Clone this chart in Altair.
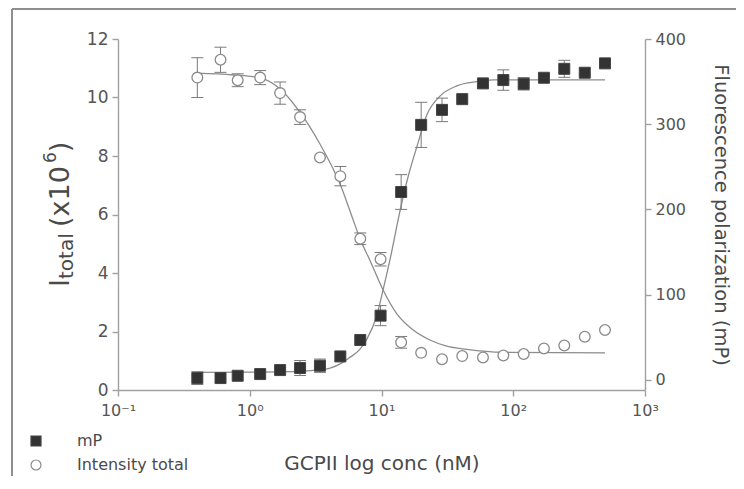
import altair as alt
import pandas as pd

# ---- data ----
conc = [0.40, 0.60, 0.81, 1.20, 1.70, 2.41, 3.41, 4.87, 6.9, 9.84, 14.1,
        20.0, 28.8, 41.0, 58.9, 84.1, 120, 171, 244, 349, 497]
intensity = [10.68, 11.29, 10.59, 10.68, 10.15, 9.33, 7.95, 7.31, 5.17, 4.47, 1.63,
             1.27, 1.05, 1.16, 1.11, 1.18, 1.23, 1.42, 1.52, 1.82, 2.05]
intensity_err = [0.68, 0.43, 0.22, 0.24, 0.38, 0.25, None, 0.33, 0.20, 0.23, 0.20,
                 None, None, None, None, None, None, None, None, None, None]
mp = [2.0, 2.0, 4.7, 6.7, 11.4, 13.8, 16.5, 27.4, 46.7, 75.3, 220.4,
      299.2, 316.8, 329.4, 347.9, 351.8, 347.4, 354.5, 365.0, 360.4, 371.4]
mp_err = [7.5, None, None, None, None, 8.8, 7.8, None, None, 11.8, 20.4,
          26.5, 13.8, None, None, 12.0, 7.3, None, 10.0, None, None]

int_fit_conc = [0.395, 0.75, 1.20, 1.70, 2.41, 3.41, 4.84, 6.11, 6.87, 8.18, 10.3,
                13.0, 17.4, 23.3, 31.3, 44.4, 83.6, 497]
int_fit_val = [10.83, 10.77, 10.67, 10.29, 9.49, 8.41, 7.05, 5.80, 5.17, 4.43, 3.41,
               2.62, 2.05, 1.71, 1.50, 1.39, 1.29, 1.27]
mp_fit_conc = [0.405, 1.0, 2.41, 3.46, 4.07, 4.97, 5.66, 6.82, 7.70, 9.18, 10.3,
               11.6, 13.9, 15.9, 18.6, 22.1, 27.8, 37.4, 53.1, 70.2, 497]
mp_fit_val = [8.6, 8.9, 9.8, 11.8, 13.7, 19.6, 25.5, 35.3, 47.0, 74.5, 106,
              141, 200, 238, 274, 311, 333, 345, 350, 352, 352]

x_ticks = [0.1, 1, 10, 100, 1000]
x_tick_labels = ["10⁻¹", "10⁰", "10¹", "10²", "10³"]
left_ticks = [0, 2, 4, 6, 8, 10, 12]
right_ticks = [0, 100, 200, 300, 400]
series_names = ["mP", "Intensity total"]

# left axis title pieces: (text, role)  role: main / sub / sup
left_title_parts = [("I", "main"), (" total", "sub"), (" (x10", "main"), ("6", "sup"), (")", "main")]

FONT = "DejaVu Sans"
LINE_COLOR = "#8c8c8c"
ERR_COLOR = "#7a7a7a"
TITLE_COLOR = "#4a4a4a"

# ---- tables ----
pts_int = pd.DataFrame({"conc": conc, "val": intensity, "err": intensity_err})
pts_int["series"] = "Intensity total"
pts_int["err"] = pd.to_numeric(pts_int["err"])
pts_int["lo"] = pts_int["val"] - pts_int["err"]
pts_int["hi"] = pts_int["val"] + pts_int["err"]
err_int = pts_int.dropna(subset=["err"])

pts_mp = pd.DataFrame({"conc": conc, "val": mp, "err": mp_err})
pts_mp["series"] = "mP"
pts_mp["err"] = pd.to_numeric(pts_mp["err"])
pts_mp["lo"] = pts_mp["val"] - pts_mp["err"]
pts_mp["hi"] = pts_mp["val"] + pts_mp["err"]
err_mp = pts_mp.dropna(subset=["err"])

fit_int = pd.DataFrame({"conc": int_fit_conc, "val": int_fit_val})
fit_mp = pd.DataFrame({"conc": mp_fit_conc, "val": mp_fit_val})

# label expression built from the tick lists
expr = ""
for t, lab in zip(x_ticks[:-1], x_tick_labels[:-1]):
    expr += f"datum.value < {t * 3.1623} ? '{lab}' : "
expr += f"'{x_tick_labels[-1]}'"

x_enc = alt.X(
    "conc:Q",
    scale=alt.Scale(type="log", domain=[0.1, 1000], nice=False),
    axis=alt.Axis(values=x_ticks, labelExpr=expr, title="GCPII log conc (nM)",
                  labelPadding=6, titlePadding=35, titleFontSize=20,
                  labelFontSize=16, labelFlush=False),
)

y_left_scale = alt.Scale(domain=[0, 12], nice=False, zero=False)
y_right_scale = alt.Scale(domain=[-12, 400], nice=False, zero=False)

left_axis = alt.Axis(orient="left", values=left_ticks, title=None, labelFontSize=17)
right_axis = alt.Axis(orient="right", values=right_ticks,
                      title="Fluorescence polarization (mP)",
                      titleFontSize=19.5, labelFontSize=16, titlePadding=25)

legend = alt.Legend(title=None, orient="none", legendX=-90, legendY=394,
                    labelFontSize=16, labelColor="#4a4a4a", labelFont=FONT,
                    symbolSize=100, rowPadding=8, labelOffset=33,
                    symbolStrokeWidth=1.2)
shape_enc = alt.Shape("series:N", scale=alt.Scale(domain=series_names, range=["square", "circle"]), legend=legend)
fill_enc = alt.Fill("series:N", scale=alt.Scale(domain=series_names, range=["#333333", "#ffffff"]), legend=legend)
stroke_enc = alt.Stroke("series:N", scale=alt.Scale(domain=series_names, range=["#444444", "#8a8a8a"]), legend=legend)

# ---- left (intensity) layer ----
int_line = alt.Chart(fit_int).mark_line(color=LINE_COLOR, strokeWidth=1.3, interpolate="monotone").encode(
    x=x_enc, y=alt.Y("val:Q", scale=y_left_scale, axis=left_axis))
int_err = alt.Chart(err_int).mark_rule(color=ERR_COLOR, strokeWidth=1).encode(
    x=x_enc, y=alt.Y("lo:Q", scale=y_left_scale, axis=left_axis), y2="hi:Q")
int_cap_lo = alt.Chart(err_int).mark_rule(color=ERR_COLOR, strokeWidth=1, xOffset=-6, x2Offset=6).encode(
    x=x_enc, x2="conc:Q", y=alt.Y("lo:Q", scale=y_left_scale, axis=left_axis))
int_cap_hi = alt.Chart(err_int).mark_rule(color=ERR_COLOR, strokeWidth=1, xOffset=-6, x2Offset=6).encode(
    x=x_enc, x2="conc:Q", y=alt.Y("hi:Q", scale=y_left_scale, axis=left_axis))
int_pts = alt.Chart(pts_int).mark_point(size=115, opacity=1, strokeWidth=1.3).encode(
    x=x_enc, y=alt.Y("val:Q", scale=y_left_scale, axis=left_axis),
    shape=shape_enc, fill=fill_enc, stroke=stroke_enc)

frame_left = alt.Chart(fit_int).mark_rule(color="#8f8f8f", strokeWidth=1.5).encode(
    x=alt.value(-106), y=alt.value(-30), y2=alt.value(470))
frame_top = alt.Chart(fit_int).mark_rule(color="#8f8f8f", strokeWidth=1.5).encode(
    x=alt.value(-106), x2=alt.value(640), y=alt.value(-30))

# left axis title built from pieces (rotated, reading upward)
sizes = {"main": 27, "sub": 20, "sup": 17}
baselines = {"main": -49, "sub": -45, "sup": -62}
char_w = {" ": .318, "I": .295, "t": .392, "o": .612, "a": .613, "l": .278,
          "(": .39, ")": .39, "x": .592, "1": .636, "0": .636, "6": .636}
squeeze = {"I": 1.0, " total": 1.0, " (x10": 0.92, "6": 1.0, ")": 1.0}
title_layers = []
ypos = 248.0
for txt, role in left_title_parts:
    fs = sizes[role]
    title_layers.append(
        alt.Chart(pd.DataFrame({"t": [txt]})).mark_text(
            angle=270, align="left", baseline="alphabetic", font=FONT,
            fontSize=fs, color=TITLE_COLOR,
        ).encode(text="t:N", x=alt.value(baselines[role]), y=alt.value(ypos))
    )
    ypos -= sum(char_w.get(c, 0.6) for c in txt) * fs * squeeze[txt]

left_layer = alt.layer(int_line, int_err, int_cap_lo, int_cap_hi, int_pts,
                       frame_left, frame_top, *title_layers)

# ---- right (mP) layer ----
mp_line = alt.Chart(fit_mp).mark_line(color=LINE_COLOR, strokeWidth=1.3, interpolate="monotone").encode(
    x=x_enc, y=alt.Y("val:Q", scale=y_right_scale, axis=right_axis))
mp_err_r = alt.Chart(err_mp).mark_rule(color=ERR_COLOR, strokeWidth=1).encode(
    x=x_enc, y=alt.Y("lo:Q", scale=y_right_scale, axis=right_axis), y2="hi:Q")
mp_cap_lo = alt.Chart(err_mp).mark_rule(color=ERR_COLOR, strokeWidth=1, xOffset=-6, x2Offset=6).encode(
    x=x_enc, x2="conc:Q", y=alt.Y("lo:Q", scale=y_right_scale, axis=right_axis))
mp_cap_hi = alt.Chart(err_mp).mark_rule(color=ERR_COLOR, strokeWidth=1, xOffset=-6, x2Offset=6).encode(
    x=x_enc, x2="conc:Q", y=alt.Y("hi:Q", scale=y_right_scale, axis=right_axis))
mp_pts = alt.Chart(pts_mp).mark_point(size=121, opacity=1, strokeWidth=1).encode(
    x=x_enc, y=alt.Y("val:Q", scale=y_right_scale, axis=right_axis),
    shape=shape_enc, fill=fill_enc, stroke=stroke_enc)

right_layer = alt.layer(mp_line, mp_err_r, mp_cap_lo, mp_cap_hi, mp_pts)

chart = alt.layer(left_layer, right_layer).resolve_scale(y="independent").properties(
    width=527, height=351,
    autosize=alt.AutoSizeParams(type="none"),
    padding={"left": 110, "top": 31, "right": 91, "bottom": 86},
    background="white",
).configure_view(stroke=None).configure_axis(
    labelFont=FONT, titleFont=FONT, labelColor="#555", titleColor=TITLE_COLOR,
    titleFontWeight="normal", domainColor="#a0a0a0", tickColor="#a0a0a0",
    domainWidth=1.4, tickWidth=1.4, tickSize=6, grid=False, labelPadding=4,
)

chart.save("out.html", embed_options={"renderer": "svg", "actions": False})
